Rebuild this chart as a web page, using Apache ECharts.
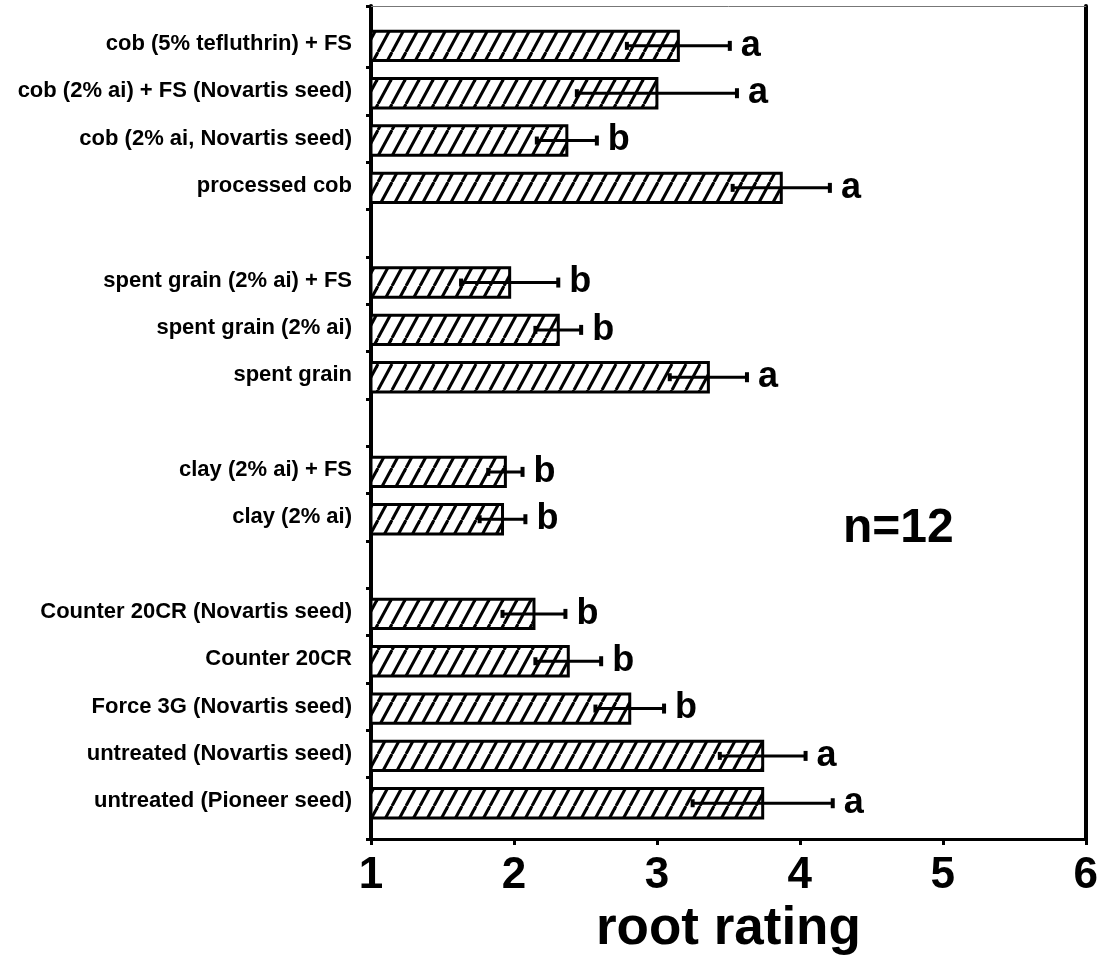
<!DOCTYPE html>
<html>
<head>
<meta charset="utf-8">
<script src="https://cdn.jsdelivr.net/npm/echarts@6/dist/echarts.min.js"></script>
<style>
  html, body { margin: 0; padding: 0; background: #fff; }
  #main { width: 1101px; height: 961px; }
</style>
</head>
<body>
<div id="main"></div>
<script>
// rows from top to bottom, blank strings are the gaps between groups
var categories = [
  'cob (5% tefluthrin) + FS',
  'cob (2% ai) + FS (Novartis seed)',
  'cob (2% ai, Novartis seed)',
  'processed cob',
  '',
  'spent grain (2% ai) + FS',
  'spent grain (2% ai)',
  'spent grain',
  '',
  'clay (2% ai) + FS',
  'clay (2% ai)',
  '',
  'Counter 20CR (Novartis seed)',
  'Counter 20CR',
  'Force 3G (Novartis seed)',
  'untreated (Novartis seed)',
  'untreated (Pioneer seed)'
];
var means   = [3.15, 3.00, 2.37, 3.87, null, 1.97, 2.31, 3.36, null, 1.94, 1.92, null, 2.14, 2.38, 2.81, 3.74, 3.74];
var errors  = [0.36, 0.56, 0.21, 0.34, null, 0.34, 0.16, 0.27, null, 0.12, 0.16, null, 0.22, 0.23, 0.24, 0.30, 0.49];
var letters = ['a', 'a', 'b', 'a', '', 'b', 'b', 'a', '', 'b', 'b', '', 'b', 'b', 'b', 'a', 'a'];
var xTicks  = [1, 2, 3, 4, 5, 6];

var FONT = '"Liberation Sans", Arial, Helvetica, sans-serif';

// hatch pattern ////
function makeHatch() {
  var c = document.createElement('canvas');
  c.width = 14; c.height = 26;
  var ctx = c.getContext('2d');
  ctx.fillStyle = '#fff';
  ctx.fillRect(0, 0, 14, 26);
  ctx.strokeStyle = '#000';
  ctx.lineWidth = 3;
  [-14, 0, 14].forEach(function (dx) {
    ctx.beginPath();
    ctx.moveTo(dx, 26);
    ctx.lineTo(dx + 14, 0);
    ctx.stroke();
  });
  return c;
}
var hatch = makeHatch();

var data = [];
var labelRows = [];
categories.forEach(function (name, i) {
  if (name) labelRows.push(i);
  if (means[i] != null) data.push([means[i], i, errors[i], letters[i]]);
});
var tickRows = [-0.8];
for (var i = 0; i < categories.length - 1; i++) tickRows.push(i + 0.5);
tickRows.push(16.8);

var myChart = echarts.init(document.getElementById('main'));
var option = {
  animation: false,
  backgroundColor: '#fff',
  grid: { left: 371, right: 14, top: 6, bottom: 111 },
  xAxis: [{
    type: 'value',
    min: xTicks[0],
    max: xTicks[xTicks.length - 1],
    interval: 1,
    splitLine: { show: false },
    axisLine: { show: true, onZero: false, lineStyle: { color: '#000', width: 3 } },
    axisTick: { show: true, length: 6, lineStyle: { color: '#000', width: 3 } },
    axisLabel: { color: '#000', fontSize: 44, fontWeight: 'bold', fontFamily: FONT, margin: 15 },
    name: 'root rating',
    nameLocation: 'middle',
    nameGap: 60,
    nameTextStyle: { color: '#000', fontSize: 53, fontWeight: 'bold', fontFamily: FONT }
  }, {
    type: 'value',
    position: 'top',
    min: 1, max: 6,
    splitLine: { show: false },
    axisLine: { show: true, onZero: false, lineStyle: { color: '#777', width: 1 } },
    axisTick: { show: false },
    axisLabel: { show: false }
  }],
  yAxis: [{
    type: 'value',
    inverse: true,
    min: -0.8,
    max: 16.8,
    splitLine: { show: false },
    axisLine: { show: true, onZero: false, lineStyle: { color: '#000', width: 4 } },
    axisTick: { show: true, length: 5, customValues: tickRows, lineStyle: { color: '#000', width: 3 } },
    axisLabel: {
      customValues: labelRows,
      formatter: function (v) { return categories[Math.round(v)]; },
      color: '#000', fontSize: 22, fontWeight: 'bold', fontFamily: FONT, margin: 19
    }
  }, {
    type: 'value',
    position: 'right',
    inverse: true,
    min: -0.8, max: 16.8,
    splitLine: { show: false },
    axisLine: { show: true, onZero: false, lineStyle: { color: '#000', width: 4 } },
    axisTick: { show: false },
    axisLabel: { show: false }
  }],
  graphic: [{
    type: 'text',
    left: 843,
    top: 505,
    style: { text: 'n=12', fill: '#000', font: 'bold 48px ' + FONT }
  }],
  series: [{
    // hatched bars
    type: 'custom',
    xAxisIndex: 0, yAxisIndex: 0,
    data: data,
    encode: { x: 0, y: 1 },
    renderItem: function (params, api) {
      var row = api.value(1);
      var p0 = api.coord([1, row]);
      var p1 = api.coord([api.value(0), row]);
      var h = api.size([0, 1])[1] * 0.62;
      return {
        type: 'rect',
        shape: { x: p0[0], y: p0[1] - h / 2 + 2, width: p1[0] - p0[0], height: h },
        style: { fill: { image: hatch, repeat: 'repeat' }, stroke: '#000', lineWidth: 3 }
      };
    }
  }, {
    // error bars + letters
    type: 'custom',
    xAxisIndex: 0, yAxisIndex: 0,
    data: data,
    encode: { x: 0, y: 1 },
    z: 3,
    renderItem: function (params, api) {
      var row = api.value(1), m = api.value(0), e = api.value(2);
      var lo = api.coord([m - e, row]);
      var hi = api.coord([m + e, row]);
      var y = lo[1] + 2;
      return {
        type: 'group',
        children: [
          { type: 'line', shape: { x1: lo[0], y1: y, x2: hi[0], y2: y }, style: { stroke: '#000', lineWidth: 3 } },
          { type: 'line', shape: { x1: lo[0], y1: y - 4, x2: lo[0], y2: y + 4 }, style: { stroke: '#000', lineWidth: 4 } },
          { type: 'line', shape: { x1: hi[0], y1: y - 5, x2: hi[0], y2: y + 5 }, style: { stroke: '#000', lineWidth: 4 } },
          {
            type: 'text',
            style: {
              text: api.value(3), x: hi[0] + 11, y: y,
              fill: '#000', font: 'bold 36px ' + FONT,
              verticalAlign: 'middle', align: 'left'
            }
          }
        ]
      };
    }
  }]
};
myChart.setOption(option);
</script>
</body>
</html>
